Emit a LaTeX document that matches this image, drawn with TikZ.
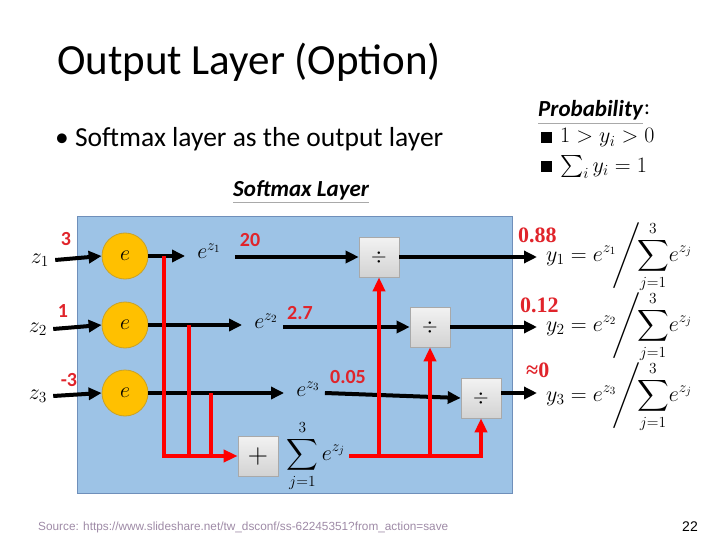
\RequirePackage{fix-cm}
\documentclass[tikz,border=0pt]{standalone}
\usepackage{amsmath}
\usepackage[no-math]{fontspec}
\setmainfont{Carlito}
\newfontfamily\serifnum{Liberation Serif}
\newfontfamily\footfont{Liberation Sans}
\DeclareFontFamily{OMX}{cmex}{}
\DeclareFontShape{OMX}{cmex}{m}{n}{<-> cmex10}{}
\usetikzlibrary{arrows.meta, positioning, calc}
\definecolor{cblue}{HTML}{9DC3E6}
\definecolor{cblueline}{HTML}{6F8FBA}
\definecolor{corange}{HTML}{FFC000}
\definecolor{corangeline}{HTML}{C9A227}
\definecolor{cred}{HTML}{FF0000}
\definecolor{cnum}{HTML}{E0242B}
\definecolor{cgrey}{HTML}{A9A9A9}
\definecolor{cfoot}{HTML}{9E8AA6}
\tikzset{
  every picture/.style={x=1pt, y=-1pt},
  layer/.style={draw=cblueline, fill=cblue, line width=1pt, minimum width=435pt, minimum height=276pt},
  neuron/.style={circle, draw=corangeline, fill=corange, minimum size=46pt, inner sep=0pt, line width=0.8pt, font=\fontsize{22}{22}\selectfont},
  opbox/.style={draw=cgrey, top color=gray!10, bottom color=gray!35, minimum size=40pt, inner sep=0pt, line width=0.6pt},
  arrow/.style={-{Triangle[length=13pt, width=12pt]}, line width=4pt},
  redline/.style={draw=cred, line width=4pt},
  redarrow/.style={redline, -{Triangle[length=14pt, width=12pt]}},
  num/.style={text=cnum, font=\bfseries\fontsize{20}{20}\selectfont, inner sep=0pt},
  outnum/.style={text=cnum, font=\serifnum\bfseries\fontsize{22}{22}\selectfont, inner sep=0pt},
  lbl/.style={font=\fontsize{22}{22}\selectfont, inner sep=0pt},
  heading/.style={font=\bfseries\itshape\fontsize{23}{23}\selectfont, inner sep=0pt},
}

\begin{document}
\begin{tikzpicture}
  \useasboundingbox (0,0) rectangle (720,540);
  % header
  \node[anchor=west, inner sep=0pt, font=\fontsize{43}{43}\selectfont] (title) at (57,62) {Output Layer (Option)};
  \node[anchor=west, inner sep=0pt, font=\fontsize{27.5}{27.5}\selectfont] (bullet) at (55,139) {\textbullet\ Softmax layer as the output layer};
  \node[heading, anchor=west] (smax) at (233,190) {Softmax Layer};
  \draw[cgrey, line width=1pt] ([yshift=-3pt]smax.south west) -- ([yshift=-3pt]smax.south east);
  % layer box
  \node[layer] (box) at (294.5,355) {};
  % neurons
  \node[neuron] (n1) at (125,256) {$e$};
  \node[neuron] (n2) at (125,325) {$e$};
  \node[neuron] (n3) at (125,393) {$e$};
  \node[lbl] (z1) at (40,260) {$z_1$};
  \node[lbl] (z2) at (38,329) {$z_2$};
  \node[lbl] (z3) at (38,396) {$z_3$};
  \draw[arrow] ([xshift=6pt]z1.east) -- (n1.west);
  \draw[arrow] ([xshift=6pt]z2.east) -- (n2.west);
  \draw[arrow] ([xshift=6pt]z3.east) -- (n3.west);
  \node[num] (v1) at (66,239) {3};
  \node[num] (v2) at (63,311) {1};
  \node[num] (v3) at (69,380) {-3};
  % exponentials
  \node[lbl] (ez1) at (209,251) {$e^{z_1}$};
  \node[lbl] (ez2) at (266,321) {$e^{z_2}$};
  \node[lbl] (ez3) at (308,389) {$e^{z_3}$};
  \draw[arrow] (n1.east) -- ([xshift=-12pt]ez1.west |- n1.east);
  \draw[arrow] (n2.east) -- ([xshift=-12pt]ez2.west |- n2.east);
  \draw[arrow] (n3.east) -- ([xshift=-12pt]ez3.west |- n3.east);
  \node[num] (e1) at (250,240) {20};
  \node[num] (e2) at (300,313) {2.7};
  \node[num] (e3) at (348,377) {0.05};
  % division
  \node[opbox] (d1) at (379,257) {\fontsize{20}{20}\selectfont$\div$};
  \node[opbox] (d2) at (430,327) {\fontsize{20}{20}\selectfont$\div$};
  \node[opbox] (d3) at (481,398) {\fontsize{20}{20}\selectfont$\div$};
  \draw[arrow] ([xshift=14pt]ez1.east |- d1.west) -- (d1.west);
  \draw[arrow] ([xshift=5pt]ez2.east |- d2.west) -- (d2.west);
  \draw[arrow] ([xshift=5pt]ez3.east |- n3.east) -- (d3.west);
  % sum
  \node[opbox] (plus) at (258,456) {\fontsize{28}{28}\selectfont$+$};
  \node[lbl, right=8pt of plus] (sum) {$\displaystyle\sum_{j=1}^{3}e^{z_j}$};
  \coordinate (t1) at (164,256);
  \coordinate (t2) at (189,325);
  \coordinate (t3) at (211,393);
  \draw[redarrow] (t1) |- (plus.west);
  \draw[redline] (t2) -- (t2 |- plus.west);
  \draw[redline] (t3) -- (t3 |- plus.west);
  \draw[redarrow] ([xshift=4pt]sum.east |- plus.east) -| (d3.south);
  \draw[redarrow] (d1.south |- plus.east) -- (d1.south);
  \draw[redarrow] (d2.south |- plus.east) -- (d2.south);
  % outputs
  \coordinate (o1) at (537,257);
  \coordinate (o2) at (537,327);
  \coordinate (o3) at (537,393);
  \draw[arrow] (d1.east) -- (o1);
  \draw[arrow] (d2.east) -- (o2);
  \draw[arrow] (d3.east |- o3) -- (o3);
  \node[lbl, anchor=west] (y1) at (546,257) {$\displaystyle y_1=e^{z_1}\!\Bigg/\!\!\sum_{j=1}^{3}\!e^{z_j}$};
  \node[lbl, anchor=west] (y2) at (546,327) {$\displaystyle y_2=e^{z_2}\!\Bigg/\!\!\sum_{j=1}^{3}\!e^{z_j}$};
  \node[lbl, anchor=west] (y3) at (546,397) {$\displaystyle y_3=e^{z_3}\!\Bigg/\!\!\sum_{j=1}^{3}\!e^{z_j}$};
  \node[outnum, anchor=west] (p1) at (518,235) {0.88};
  \node[outnum, anchor=west] (p2) at (520,305) {0.12};
  \node[outnum, anchor=west] (p3) at (526,370) {≈0};
  % probability
  \node[heading, anchor=west] (prob) at (538,110) {Probability};
  \node[inner sep=0pt, font=\fontsize{22}{22}\selectfont, right=1pt of prob] (colon) {:};
  \draw[cgrey, line width=1pt] ([yshift=-3pt]prob.south west) -- ([yshift=-3pt]prob.south east);
  \node[lbl, anchor=west] (b1) at (541,138) {\rule{11pt}{11pt}\hspace{8pt}$1>y_i>0$};
  \node[lbl, anchor=west] (b2) at (541,167) {\rule{11pt}{11pt}\hspace{8pt}$\sum_i y_i=1$};
  % footer
  \node[anchor=west, inner sep=0pt, text=cfoot, font=\footfont\fontsize{11.8}{11.8}\selectfont] (src) at (38,527) {Source: https://www.slideshare.net/tw\_dsconf/ss-62245351?from\_action=save};
  \node[inner sep=0pt, font=\footfont\fontsize{14}{14}\selectfont] (page) at (690,527) {22};
\end{tikzpicture}
\end{document}
